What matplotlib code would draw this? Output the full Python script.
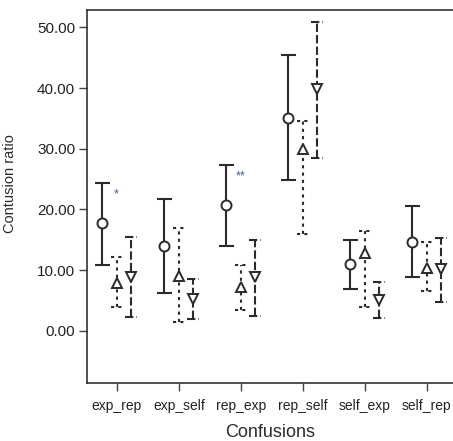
import matplotlib
matplotlib.use("Agg")
import matplotlib.pyplot as plt
import numpy as np

plt.rcParams['font.family'] = ['Liberation Sans', 'DejaVu Sans']

categories = ["exp_rep", "exp_self", "rep_exp", "rep_self", "self_exp", "self_rep"]

# circle series (solid)
circ_mean = [17.7, 14.0, 20.8, 35.0, 11.0, 14.7]
circ_low = [10.9, 6.3, 14.0, 24.9, 6.9, 8.9]
circ_high = [24.4, 21.8, 27.4, 45.4, 14.9, 20.6]

# triangle-up series (dotted)
up_mean = [7.9, 9.1, 7.2, 30.0, 12.9, 10.4]
up_low = [4.0, 1.5, 3.5, 16.0, 4.0, 6.6]
up_high = [12.2, 17.0, 10.8, 34.5, 16.5, 14.7]

# triangle-down series (dashed)
down_mean = [8.9, 5.3, 8.8, 39.8, 5.1, 10.2]
down_low = [2.3, 2.0, 2.4, 28.4, 2.1, 4.8]
down_high = [15.5, 8.6, 15.0, 50.8, 8.0, 15.3]

stars = ["*", "", "**", "", "", ""]

ink = "#2b2b2b"
x = np.arange(len(categories))

fig = plt.figure(figsize=(4.53, 4.41), dpi=100)
ax = fig.add_axes([0.192, 0.132, 0.808, 0.846])

series = [
    (circ_mean, circ_low, circ_high, -0.235, "o", "-", 0.12),
    (up_mean, up_low, up_high, 0.0, "^", (0, (1.5, 2.0)), 0.1),
    (down_mean, down_low, down_high, 0.225, "v", (0, (4, 1.5)), 0.1),
]
for mean, low, high, off, mk, ls, cap in series:
    xs = x + off
    ax.vlines(xs, low, high, colors=ink, linestyles=ls, lw=1.5, zorder=2)
    ax.hlines(low, xs - cap, xs + cap, colors=ink, linestyles=ls, lw=1.5, zorder=2)
    ax.hlines(high, xs - cap, xs + cap, colors=ink, linestyles=ls, lw=1.5, zorder=2)
    ax.plot(xs, mean, linestyle="none", marker=mk, markersize=7.2,
            markerfacecolor="white", markeredgecolor=ink, markeredgewidth=1.4, zorder=3)

for i, s in enumerate(stars):
    if s:
        ax.text(x[i] - 0.01, circ_high[i] - 2.0, s, fontsize=9, color="#3f5a8c",
                ha="center", va="center")

ax.set_xlim(-0.484, 5.42)
ax.set_ylim(-8.55, 52.9)
ax.set_xticks(x)
ax.set_xticklabels(categories, fontsize=10)
ax.set_yticks([0, 10, 20, 30, 40, 50])
ax.set_yticklabels([f"{v:.2f}" for v in [0, 10, 20, 30, 40, 50]], fontsize=11)

for side in ["left", "top", "bottom"]:
    ax.spines[side].set_color("#222222")
    ax.spines[side].set_linewidth(1.1)
ax.spines["right"].set_visible(False)

ax.tick_params(axis="both", direction="out", length=5.5, width=1, color="#444444",
               labelcolor="#222222", pad=3)
ax.tick_params(axis="x", pad=6)

ax.set_ylabel("Contusion ratio", fontsize=10.5, color=ink)
ax.yaxis.set_label_coords(-0.19, 0.535)
ax.set_xlabel("Confusions", fontsize=13, color=ink, labelpad=8)

fig.savefig("out.png", dpi=100)
